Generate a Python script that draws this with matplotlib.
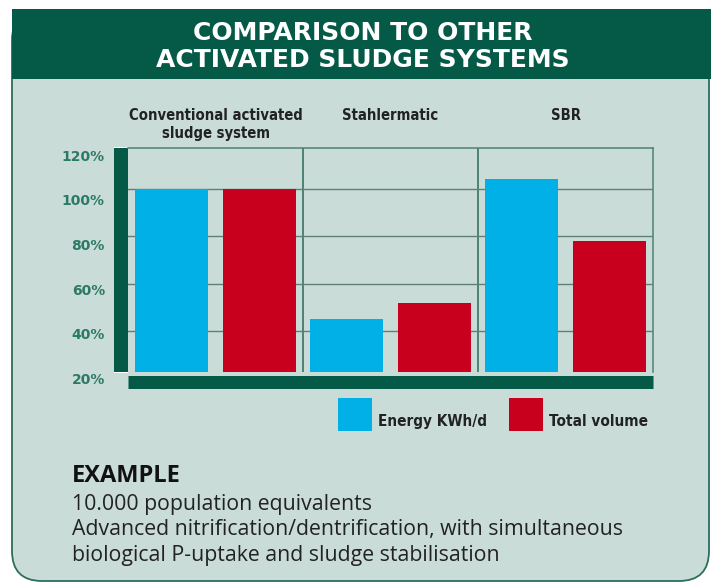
import numpy as np
import matplotlib
matplotlib.use("Agg")
import matplotlib.pyplot as plt
from matplotlib import font_manager
from matplotlib.patches import FancyBboxPatch, Rectangle
from matplotlib.transforms import Affine2D, ScaledTranslation

# data
systems = ["Conventional activated\nsludge system", "Stahlermatic", "SBR"]
energy = [100, 45, 104]        # Energy KWh/d, % of conventional
volume = [100, 52, 78]         # Total volume, % of conventional
ytick_vals = [20, 40, 60, 80, 100, 120]
ytick_labels = ["20%", "40%", "60%", "80%", "100%", "120%"]
series_names = ["Energy KWh/d", "Total volume"]

W, H = 715, 584
BLUE = "#00b0e6"
RED = "#c8001e"
DARK = "#045a47"
PANEL = "#c9dcd8"
TEAL_TXT = "#2c7a66"

names = {f.name for f in font_manager.fontManager.ttflist}
body_font = "Open Sans" if "Open Sans" in names else "DejaVu Sans"

fig = plt.figure(figsize=(W / 100, H / 100), dpi=100)
fig.patch.set_facecolor("white")

# transform in image pixels (origin top-left)
px = Affine2D().scale(1 / 100, -1 / 100).translate(0, H / 100) + fig.dpi_scale_trans

panel = FancyBboxPatch((12, 10), 697, 571, boxstyle="round,pad=0,rounding_size=30",
                       transform=px, facecolor=PANEL, edgecolor="#2f6d5c", lw=1.3,
                       zorder=-3)
fig.patches.append(panel)
banner = Rectangle((11.5, 9), 699, 70, transform=px, facecolor=DARK, edgecolor="none",
                   zorder=-2)
fig.patches.append(banner)

fig.text(363 / W, 1 - 33 / H, "COMPARISON TO OTHER", ha="center", va="center",
         color="white", fontsize=18, fontweight="bold")
fig.text(363 / W, 1 - 60 / H, "ACTIVATED SLUDGE SYSTEMS", ha="center", va="center",
         color="white", fontsize=18, fontweight="bold")

ax = fig.add_axes([128 / W, 1 - 372 / H, (653 - 128) / W, (372 - 148) / H])
ax.patch.set_visible(False)
x = np.arange(len(systems))
b1 = ax.bar(x - 0.25, energy, width=0.415, color=BLUE, zorder=3, label=series_names[0])
b2 = ax.bar(x + 0.25, volume, width=0.415, color=RED, zorder=3, label=series_names[1])
ax.set_xlim(-0.5, 2.5)
ax.set_ylim(22.7, 117.3)

# thick dark green bars on left and bottom
for side, width, out in [("left", 14, 7), ("bottom", 13, 9.5)]:
    sp = ax.spines[side]
    sp.set_position(("outward", out * 0.72))
    sp.set_linewidth(width * 0.72)
    sp.set_color(DARK)
    sp.set_capstyle("butt")
for side in ["top", "right"]:
    ax.spines[side].set_color("#4e8273")
    ax.spines[side].set_linewidth(1.1)

ax.set_yticks([40, 60, 80, 100])
ax.set_yticks([22.7, 117.3], minor=True)
ax.set_xticks([0.5, 1.5])
ax.tick_params(axis="y", which="both", direction="inout", length=14 * 0.72,
               width=1.5, color="white", labelleft=False)
ax.tick_params(axis="x", which="both", direction="inout", length=13 * 0.72,
               width=1.5, color="white", labelbottom=False)
ax.set_axisbelow(True)
ax.grid(axis="y", color="#5f7f77", lw=1.0)
ax.grid(axis="x", color="#4e8273", lw=1.4)

# y labels (sit a little lower than their gridlines in the original)
ytr = ax.get_yaxis_transform()
for v, lab in zip(ytick_vals, ytick_labels):
    off = (1.7 + (v - 20) * 0.133) / 100
    ax.text(-0.044, v, lab, transform=ytr + ScaledTranslation(0, -off, fig.dpi_scale_trans),
            ha="right", va="center", fontsize=10, fontweight="bold", color=TEAL_TXT,
            clip_on=False)

# category labels above the panels
xtr = ax.get_xaxis_transform()
for i, name in enumerate(systems):
    ax.text(i, 1.179, name, transform=xtr, ha="center", va="top", fontsize=10.6,
            fontweight="bold", fontstretch="condensed", color="#222222",
            linespacing=1.25, multialignment="center", clip_on=False)

leg = ax.legend(handles=[b1, b2], loc="upper left", bbox_to_anchor=(338 / W, 1 - 398 / H),
                bbox_transform=fig.transFigure, ncol=2, frameon=False,
                handlelength=2.25, handleheight=2.95, handletextpad=0.4,
                columnspacing=1.4, borderpad=0, borderaxespad=0,
                prop={"size": 11, "weight": "bold", "stretch": "condensed"})
for t in leg.get_texts():
    t.set_color("#222222")
    t.set_position((0, -7))

# example text
fig.text(71.7 / W, 1 - 481.7 / H, "EXAMPLE", ha="left", va="baseline",
         fontsize=17, fontweight="bold", family=body_font, color="#111111")
lines = ["10.000 population equivalents",
         "Advanced nitrification/dentrification, with simultaneous",
         "biological P-uptake and sludge stabilisation"]
for ln, yb in zip(lines, [510, 535.5, 560.5]):
    fig.text(71.7 / W, 1 - yb / H, ln, ha="left", va="baseline",
             fontsize=15.3, family=body_font, color="#222222")

fig.savefig("out.png", dpi=100)
